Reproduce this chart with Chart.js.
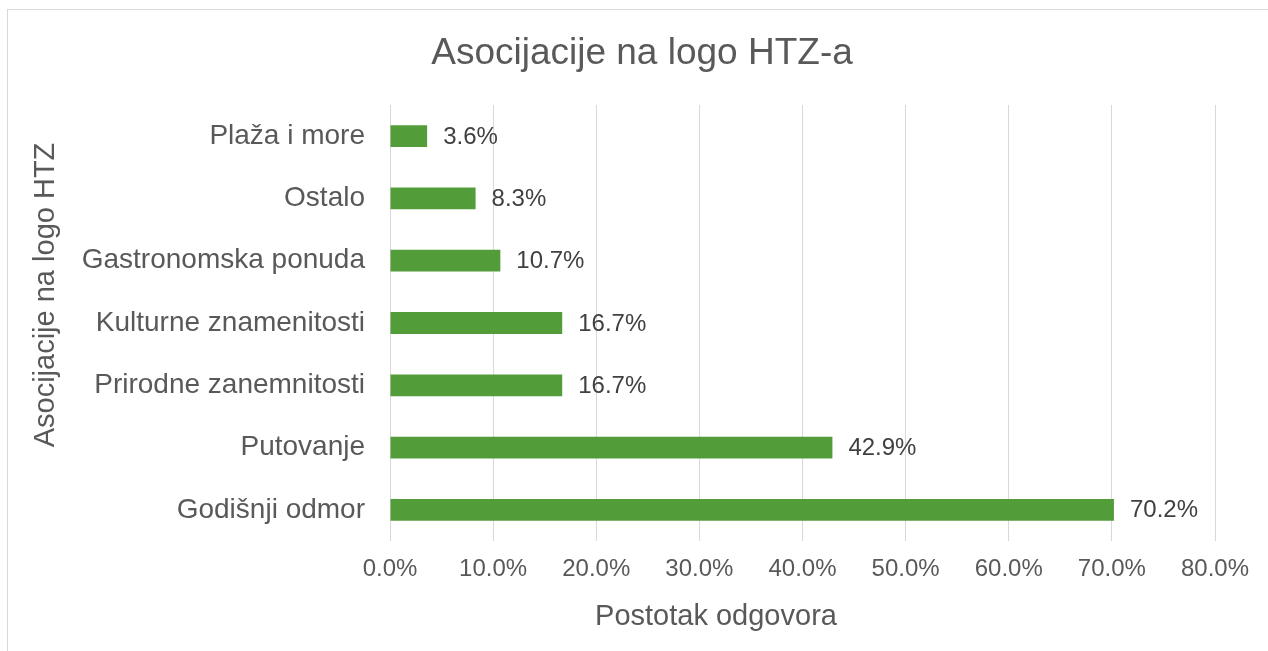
<!DOCTYPE html>
<html>
<head>
<meta charset="utf-8">
<script src="https://cdn.jsdelivr.net/npm/chart.js@4/dist/chart.umd.min.js"></script>
<style>
html,body{margin:0;padding:0;background:#fff;}
#wrap{width:1268px;height:651px;position:relative;}
</style>
</head>
<body>
<div id="wrap"><canvas id="c" width="1268" height="651"></canvas></div>
<script>
const categories = ["Plaža i more", "Ostalo", "Gastronomska ponuda", "Kulturne znamenitosti", "Prirodne zanemnitosti", "Putovanje", "Godišnji odmor"];
const values = [3.6, 8.3, 10.7, 16.7, 16.7, 42.9, 70.2];
const xTicks = [0, 10, 20, 30, 40, 50, 60, 70, 80];
const chartTitle = "Asocijacije na logo HTZ-a";
const xTitle = "Postotak odgovora";
const yTitle = "Asocijacije na logo HTZ";

const FONT = "'Liberation Sans', Arial, sans-serif";

const frame = {
  id: 'frame',
  beforeDraw(chart) {
    const ctx = chart.ctx;
    ctx.save();
    ctx.fillStyle = '#fff';
    ctx.fillRect(0, 0, chart.width, chart.height);
    ctx.strokeStyle = '#D9D9D9';
    ctx.lineWidth = 1;
    ctx.strokeRect(7.5, 9.5, 1300, 700);
    ctx.restore();
  }
};

const titles = {
  id: 'titles',
  afterDraw(chart) {
    const ctx = chart.ctx;
    ctx.save();
    ctx.fillStyle = '#595959';
    ctx.textAlign = 'center';
    ctx.textBaseline = 'middle';
    ctx.font = "37px " + FONT;
    ctx.fillText(chartTitle, 642, 54);
    ctx.font = "29px " + FONT;
    ctx.fillText(xTitle, 716, 617);
    ctx.translate(46, 295);
    ctx.rotate(-Math.PI / 2);
    ctx.fillText(yTitle, 0, 0);
    ctx.restore();
  }
};

const labels = {
  id: 'valueLabels',
  afterDatasetsDraw(chart) {
    const ctx = chart.ctx;
    const meta = chart.getDatasetMeta(0);
    ctx.save();
    ctx.font = "24px " + FONT;
    ctx.fillStyle = '#404040';
    ctx.textAlign = 'left';
    ctx.textBaseline = 'middle';
    meta.data.forEach((bar, i) => {
      ctx.fillText(values[i].toFixed(1) + '%', bar.x + 16, bar.y + 1);
    });
    ctx.restore();
  }
};

new Chart(document.getElementById('c'), {
  type: 'bar',
  data: {
    labels: categories,
    datasets: [{
      data: values,
      backgroundColor: '#529D3A',
      borderWidth: 0,
      categoryPercentage: 1,
      barPercentage: 0.35
    }]
  },
  plugins: [frame, labels, titles],
  options: {
    indexAxis: 'y',
    responsive: false,
    animation: false,
    layout: { padding: { left: 0, right: 53, top: 105, bottom: 0 } },
    plugins: {
      legend: { display: false },
      tooltip: { enabled: false },
      title: { display: false }
    },
    scales: {
      x: {
        min: 0, max: 80,
        afterBuildTicks(scale) { scale.ticks = xTicks.map(v => ({ value: v })); },
        afterFit(scale) { scale.height = 110; },
        grid: { color: '#D9D9D9', drawTicks: false, lineWidth: 1 },
        border: { display: false },
        ticks: {
          padding: 14,
          color: '#595959',
          font: { family: FONT, size: 24 },
          callback: v => v.toFixed(1) + '%',
          maxRotation: 0
        },
        title: { display: false }
      },
      y: {
        afterFit(scale) { scale.width = 390; },
        grid: { display: false, drawTicks: false },
        border: { display: false },
        ticks: {
          padding: 25,
          color: '#595959',
          font: { family: FONT, size: 28 }
        },
        title: { display: false }
      }
    }
  }
});
</script>
</body>
</html>
